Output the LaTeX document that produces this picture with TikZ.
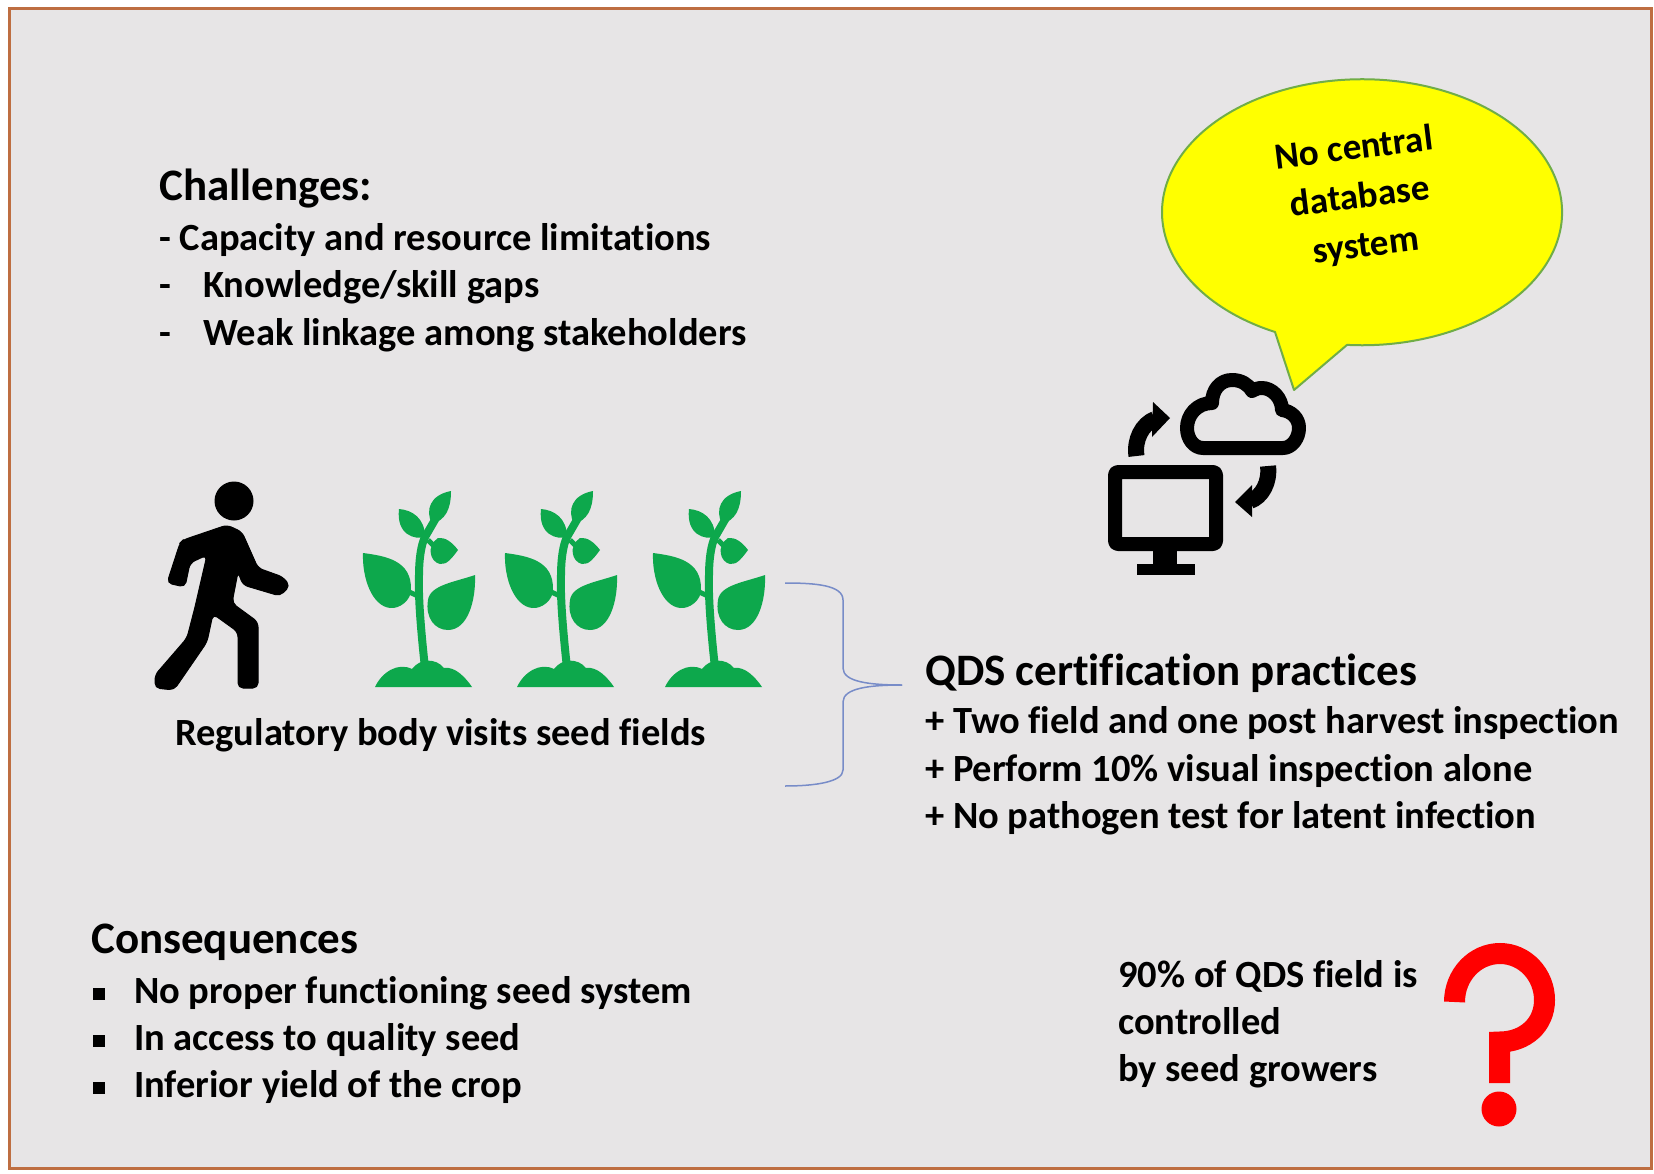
\documentclass[tikz,border=0pt]{standalone}
\usepackage{fontspec}
\usepackage{xcolor}
\usetikzlibrary{positioning,calc}
\setmainfont{Carlito}[Ligatures=NoCommon]
\definecolor{panelgrey}{RGB}{231,229,230}
\definecolor{framebrown}{RGB}{190,110,65}
\definecolor{plantgreen}{RGB}{13,168,76}
\definecolor{bubblegreen}{RGB}{112,173,71}
\definecolor{bubbleyellow}{RGB}{255,255,0}
\definecolor{markred}{RGB}{255,0,0}
\definecolor{bracketblue}{RGB}{120,140,200}
\begin{document}
\begin{tikzpicture}[x=1pt,y=-1pt,
    bodytext/.style={anchor=base west,inner sep=0pt,font=\fontsize{38.5}{46}\selectfont\bfseries},
    headtext/.style={anchor=base west,inner sep=0pt,font=\fontsize{45}{52}\selectfont\bfseries},
    icon/.style={line width=14pt,line join=round,black}]
    \useasboundingbox (0,0) rectangle (1654,1174);
    \draw[framebrown,line width=3pt,fill=panelgrey] (9,9) rectangle (1651,1168);

    % Challenges
    \node[headtext] (chalhead) at (159,201) {Challenges:};
    \node[bodytext] (chalone) at (159,251) {- Capacity and resource limitations};
    \node[bodytext] (chaltwo) at (159,298) {\makebox[44pt][l]{-}Knowledge/skill gaps};
    \node[bodytext] (chalthree) at (159,345) {\makebox[44pt][l]{-}Weak linkage among stakeholders};

    % Walking person
    \fill[black] (234,501) circle (19.5);
    \fill[black,draw=black,line width=1pt,rounded corners=5pt] (183,540) -- (227,525) -- (242,532) -- (258,568) -- (283,577) -- (290,586) -- (280,596) -- (243,585) -- (238,572) -- (232,603) -- (258,622) -- (258,688) -- (238,688) -- (238,632) -- (213,614) -- (207,642) -- (174,690) -- (155,688) -- (155,675) -- (187,638) -- (195,607) -- (207,555) -- (190,563) -- (185,587) -- (167,583) -- (180,543) -- cycle;

    % Seed field plants
    \foreach \dx in {0,142,290} {
        \begin{scope}[xshift=\dx]
            \draw[plantgreen,line width=8pt] (425,668) .. controls (422,640) and (418,600) .. (419,575) .. controls (419,560) and (421,545) .. (425,537) -- (436,518);
            \draw[plantgreen,line width=5pt] (405,590) -- (420,597) (428,540) -- (438,550);
            \fill[plantgreen] (363,553) .. controls (385,556) and (412,560) .. (411,590) .. controls (411,600) and (400,609) .. (390,608) .. controls (372,606) and (362,578) .. (363,553) -- cycle;
            \fill[plantgreen] (399,509) .. controls (412,510) and (425,518) .. (425,537) .. controls (415,540) and (396,535) .. (399,509) -- cycle;
            \fill[plantgreen] (451,491) .. controls (451,510) and (445,520) .. (432,524) .. controls (425,510) and (430,495) .. (451,491) -- cycle;
            \fill[plantgreen] (458,550) .. controls (452,558) and (447,565) .. (440,564) .. controls (430,562) and (426,546) .. (438,538) .. controls (445,537) and (452,542) .. (458,550) -- cycle;
            \fill[plantgreen] (475,575) .. controls (476,600) and (468,630) .. (448,630) .. controls (435,630) and (425,618) .. (428,600) .. controls (430,585) and (455,582) .. (475,575) -- cycle;
            \fill[plantgreen] (375,687) .. controls (382,672) and (398,662) .. (412,669) .. controls (420,658) and (436,658) .. (444,668) .. controls (455,666) and (466,678) .. (472,687) -- cycle;
        \end{scope}
    }
    \node[bodytext] (visits) at (175,745) {Regulatory body visits seed fields};

    % Bracket towards the practices
    \coordinate (brtop) at (785,583);
    \coordinate (brbot) at (785,786);
    \coordinate (brtip) at (902,685);
    \draw[bracketblue,line width=1.5pt] (brtop) .. controls (815,583) and (843,585) .. (843,600) -- (843,668) .. controls (843,682) and (870,685) .. (brtip);
    \draw[bracketblue,line width=1.5pt] (brtip) .. controls (870,685) and (843,688) .. (843,702) -- (843,770) .. controls (843,782) and (815,786) .. (brbot);

    % QDS certification practices
    \node[headtext] (qdshead) at (925,685) {QDS certification practices};
    \node[bodytext] (qdsone) at (925,733) {+ Two field and one post harvest inspection};
    \node[bodytext] (qdstwo) at (925,781) {+ Perform 10\% visual inspection alone};
    \node[bodytext] (qdsthree) at (925,828) {+ No pathogen test for latent infection};

    % Speech bubble
    \draw[bubblegreen,line width=2pt,fill=bubbleyellow,line join=round] (1275,332) arc[start angle=115.8,end angle=454.3,x radius=200,y radius=133] -- (1294,390) -- cycle;
    \node[rotate=7,align=center,inner sep=0pt,font=\fontsize{37}{49}\selectfont\bfseries] (nodb) at (1360,198) {No central\\database\\system};

    % Computer and cloud
    \draw[icon,rounded corners=3pt] (1115,472) rectangle (1216,544);
    \fill[black] (1153,550) rectangle (1177,566);
    \fill[black] (1137,564) rectangle (1195,575);
    \draw[icon] (1203,448) -- (1283,448) .. controls (1292,448) and (1299,438) .. (1299,428) .. controls (1299,418) and (1291,411) .. (1282,410) .. controls (1282,398) and (1272,388) .. (1262,388) .. controls (1258,388) and (1255,389) .. (1252,391) .. controls (1248,384) and (1241,380) .. (1232,380) .. controls (1220,380) and (1212,390) .. (1212,403) .. controls (1197,403) and (1187,415) .. (1187,428) .. controls (1187,439) and (1194,448) .. (1203,448) -- cycle;
    \draw[black,line width=16pt] (1136.5,456) .. controls (1134,440) and (1142,424) .. (1155,419);
    \fill[black] (1170,418) -- (1153,402) -- (1152,437) -- cycle;
    \draw[black,line width=16pt] (1268,466) .. controls (1270,482) and (1262,497) .. (1250,501);
    \fill[black] (1235,502) -- (1252,485) -- (1252,517) -- cycle;

    % Consequences
    \node[headtext] (conshead) at (91,953) {Consequences};
    \node[bodytext] (consone) at (93,1003) {\makebox[41pt][l]{\raisebox{3pt}{\rule{12pt}{12pt}}}No proper functioning seed system};
    \node[bodytext] (constwo) at (93,1050) {\makebox[41pt][l]{\raisebox{3pt}{\rule{12pt}{12pt}}}In access to quality seed};
    \node[bodytext] (consthree) at (93,1097) {\makebox[41pt][l]{\raisebox{3pt}{\rule{12pt}{12pt}}}Inferior yield of the crop};

    % Seed growers and question mark
    \node[bodytext] (growone) at (1118,987) {90\% of QDS field is};
    \node[bodytext] (growtwo) at (1118,1034) {controlled};
    \node[bodytext] (growthree) at (1118,1081) {by seed growers};
    \draw[markred,line width=21pt] (1454.5,1002) .. controls (1454.5,975) and (1475,953.5) .. (1500,953.5) .. controls (1525,953.5) and (1544.5,975) .. (1544.5,1000) .. controls (1544.5,1025) and (1525,1042) .. (1499.5,1042) -- (1499.5,1083);
    \fill[markred] (1499,1109) circle (17.5);
\end{tikzpicture}
\end{document}
